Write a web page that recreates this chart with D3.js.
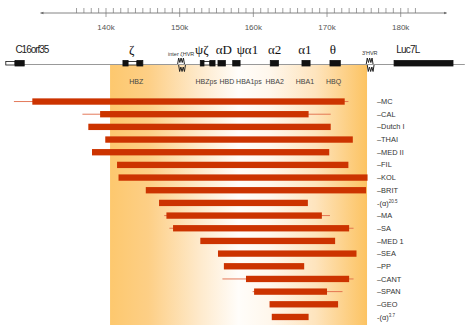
<!DOCTYPE html>
<html>
<head>
<meta charset="utf-8">
<script src="https://cdn.jsdelivr.net/npm/d3@7"></script>
<style>
  body { margin: 0; background: #fff; }
  text { font-family: "Liberation Sans", Arial, sans-serif; }
</style>
</head>
<body>
<div id="chart"></div>
<script>
// deletion names, thick (certain) extent and thin (uncertain) extent, in kb
var rows = ["MC", "CAL", "Dutch I", "THAI", "MED II", "FIL", "KOL", "BRIT", "(α)20.5",
            "MA", "SA", "MED 1", "SEA", "PP", "CANT", "SPAN", "GEO", "(α)3.7"];
var thickStart = [130.0, 139.2, 137.6, 139.9, 138.1, 141.5, 141.7, 145.4, 147.2,
                  148.2, 149.1, 152.8, 155.2, 156.0, 159.0, 160.1, 162.2, 162.5];
var thickEnd   = [172.4, 167.5, 170.5, 173.5, 170.3, 172.9, 175.5, 175.3, 167.4,
                  169.3, 173.0, 171.1, 174.0, 166.9, 173.0, 170.0, 171.5, 167.5];
var thinStart  = [127.5, 136.8, null, null, null, null, null, null, null,
                  147.9, 148.6, null, null, null, 155.8, 159.9, null, null];
var thinEnd    = [172.9, 170.5, null, null, null, null, null, null, null,
                  170.4, 173.6, null, null, null, 173.6, 172.1, null, null];

// genes on the top track
var exonStart = [126.4, 127.65, 142.3, 143.0, 144.2, 152.8, 153.3, 154.1, 155.2, 157.2, 162.3, 166.6, 170.4, 179.1];
var exonEnd   = [127.65, 128.9, 143.0, 144.2, 145.0, 153.3, 154.1, 154.8, 156.2, 158.2, 163.4, 167.7, 171.8, 187.1];
var exonFill  = [false, true, true, false, true, true, false, true, true, true, true, true, true, true];

var symbolNames = ["ζ", "ψζ", "αD", "ψα1", "α2", "α1", "θ"];
var symbolPos   = [143.5, 153.0, 156.0, 159.2, 162.9, 167.0, 170.8];
var hbNames = ["HBZ", "HBZps", "HBD", "HBA1ps", "HBA2", "HBA1", "HBQ"];
var hbPos   = [144.1, 153.6, 156.4, 159.4, 162.9, 167.0, 170.9];
var hvrNames = ["inter ζHVR", "3'HVR"];
var hvrPos   = [150.2, 175.8];
var sideNames = ["C16orf35", "Luc7L"];
var sidePos   = [127.7, 179.4];

var majorTicks = [140, 150, 160, 170, 180];
var tickStart = 136, tickEnd = 182;

var width = 468, height = 326;

var svg = d3.select("#chart").append("svg")
  .attr("width", width)
  .attr("height", height);

var x = d3.scaleLinear().domain([140, 180]).range([106, 400.7]);
var y = d3.scaleBand().domain(rows).range([95.2, 323.3]).paddingInner(0.5).paddingOuter(0.25);

// shaded alpha-globin region
var grad = svg.append("defs").append("linearGradient")
  .attr("id", "shade").attr("x1", "0%").attr("x2", "100%");
[[0, "#fdc86e"], [0.15, "#fdcf86"], [0.35, "#feeacc"], [0.5, "#fffdfa"],
 [0.62, "#fff7ec"], [0.8, "#fee4bd"], [1, "#fcc362"]].forEach(function(s) {
  grad.append("stop").attr("offset", s[0]).attr("stop-color", s[1]);
});
svg.append("rect")
  .attr("x", x(140.55)).attr("y", 65)
  .attr("width", x(175.43) - x(140.55)).attr("height", 260)
  .attr("fill", "url(#shade)");

// kb axis
var axisY = 13;
svg.append("line")
  .attr("x1", x(131.1)).attr("x2", x(186.2))
  .attr("y1", axisY).attr("y2", axisY)
  .attr("stroke", "#666").attr("stroke-width", 0.8);
svg.append("path").attr("d", "M" + x(131.1) + "," + axisY + "l3,-1.2v2.4z").attr("fill", "#666");
svg.append("path").attr("d", "M" + x(186.3) + "," + axisY + "l-3,-1.2v2.4z").attr("fill", "#666");
svg.append("g").selectAll("line")
  .data(d3.range(tickStart, tickEnd + 1))
  .join("line")
  .attr("x1", function(d) { return x(d); })
  .attr("x2", function(d) { return x(d); })
  .attr("y1", axisY - 5)
  .attr("y2", function(d) { return majorTicks.indexOf(d) >= 0 ? axisY + 4 : axisY; })
  .attr("stroke", "#777").attr("stroke-width", 0.7);
svg.append("g").selectAll("text")
  .data(majorTicks)
  .join("text")
  .attr("x", function(d) { return x(d); })
  .attr("y", 30)
  .attr("text-anchor", "middle")
  .attr("font-size", "8px")
  .attr("fill", "#555")
  .text(function(d) { return d + "k"; });

// gene track
var trackY = 64.5;
svg.append("line")
  .attr("x1", x(126.4)).attr("x2", x(188.7))
  .attr("y1", trackY).attr("y2", trackY)
  .attr("stroke", "#999").attr("stroke-width", 1);
svg.append("g").selectAll("rect")
  .data(exonStart)
  .join("rect")
  .attr("x", function(d) { return x(d); })
  .attr("width", function(d, i) { return x(exonEnd[i]) - x(d); })
  .attr("y", function(d, i) { return exonFill[i] ? 60.5 : 61.5; })
  .attr("height", function(d, i) { return exonFill[i] ? 5.5 : 3.5; })
  .attr("fill", function(d, i) { return exonFill[i] ? "#111" : "#fff"; })
  .attr("stroke", "#111").attr("stroke-width", 0.8);

svg.append("g").selectAll("text")
  .data(symbolNames)
  .join("text")
  .attr("x", function(d, i) { return x(symbolPos[i]); })
  .attr("y", 54)
  .attr("text-anchor", "middle")
  .style("font-family", "'Liberation Serif', serif")
  .attr("font-size", "13px")
  .attr("fill", "#111")
  .text(function(d) { return d; });

svg.append("g").selectAll("text")
  .data(sideNames)
  .join("text")
  .attr("x", function(d, i) { return x(sidePos[i]); })
  .attr("y", 53)
  .attr("font-size", "10px")
  .attr("fill", "#222")
  .attr("textLength", function(d, i) { return i === 0 ? 34 : 24; })
  .text(function(d) { return d; });

svg.append("g").selectAll("text")
  .data(hvrNames)
  .join("text")
  .attr("x", function(d, i) { return x(hvrPos[i]); })
  .attr("y", function(d, i) { return i === 0 ? 56 : 55; })
  .attr("text-anchor", "middle")
  .attr("font-size", "5.5px")
  .attr("fill", "#333")
  .text(function(d) { return d; });

// hypervariable region squiggles
svg.append("g").selectAll("path")
  .data(hvrPos)
  .join("path")
  .attr("d", function(d) {
    var cx = x(d);
    return "M" + (cx - 3.5) + ",64 l1,-6 l1.2,4.5 l1.2,-4.5 l1.2,4.5 l1.2,-4.5 l1,6" +
           " M" + (cx - 2.5) + ",65 l1,6.5 l1.2,-4.5 l1.2,4.5 l1.2,-4.5 l1.2,4.5 l1,-6.5";
  })
  .attr("fill", "none").attr("stroke", "#222").attr("stroke-width", 1);

svg.append("g").selectAll("text")
  .data(hbNames)
  .join("text")
  .attr("x", function(d, i) { return x(hbPos[i]); })
  .attr("y", 83.5)
  .attr("text-anchor", "middle")
  .attr("font-size", "7px")
  .attr("fill", "#444")
  .text(function(d) { return d; });

// deletion bars
var bars = svg.append("g");
bars.selectAll("line")
  .data(rows.filter(function(d, i) { return thinStart[i] !== null; }))
  .join("line")
  .attr("x1", function(d) { return x(thinStart[rows.indexOf(d)]); })
  .attr("x2", function(d) { return x(thinEnd[rows.indexOf(d)]); })
  .attr("y1", function(d) { return y(d) + y.bandwidth() / 2; })
  .attr("y2", function(d) { return y(d) + y.bandwidth() / 2; })
  .attr("stroke", "#e06a48").attr("stroke-width", 0.9);
bars.selectAll("rect")
  .data(rows)
  .join("rect")
  .attr("x", function(d, i) { return x(thickStart[i]); })
  .attr("width", function(d, i) { return x(thickEnd[i]) - x(thickStart[i]); })
  .attr("y", function(d) { return y(d); })
  .attr("height", y.bandwidth())
  .attr("fill", "#cc3300");

// row labels
var labels = svg.append("g").selectAll("text")
  .data(rows)
  .join("text")
  .attr("x", 377)
  .attr("y", function(d) { return y(d) + y.bandwidth() / 2 + 2.6; })
  .attr("font-size", "7.4px")
  .attr("fill", "#333");
labels.each(function(d) {
  var t = d3.select(this);
  if (d.indexOf("(α)") === 0) {
    t.append("tspan").text("-(α)");
    t.append("tspan").attr("font-size", "4.5px").attr("dy", -3).text(d.slice(3));
  } else {
    t.text("–" + d);
  }
});
</script>
</body>
</html>
